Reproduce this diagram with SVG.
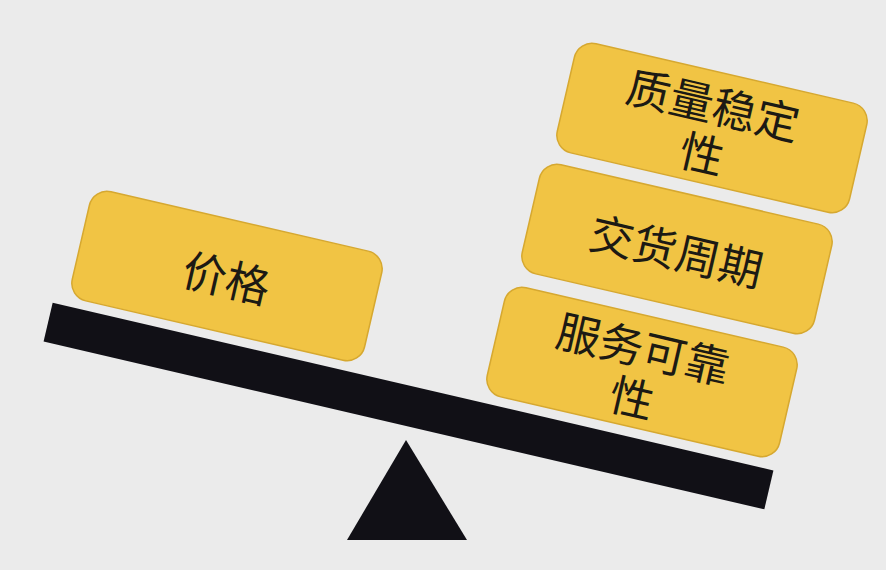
<svg xmlns="http://www.w3.org/2000/svg" width="886" height="570" viewBox="0 0 886 570">
<style>
.box{fill:#f1c444;stroke:#d6a830;stroke-width:1.5}
.lbl{font-family:"Noto Sans CJK SC","Noto Sans",sans-serif;font-size:44px;fill:#1c1a14;text-anchor:middle;dominant-baseline:central}
</style>
<rect width="886" height="570" fill="#ebebeb"/>
<g id="beam"><rect x="-370" y="-20" width="740" height="40" fill="#111016" transform="translate(408.5,406) rotate(13.1)"/></g>
<g id="fulcrum"><polygon points="406,440 347,540 467,540" fill="#111016"/></g>
<g id="price" transform="translate(227,276) rotate(13)">
<rect class="box" x="-150" y="-56" width="300" height="112" rx="18" fill="#ecc558"/>
<text class="lbl" x="0" y="0">价格</text>
</g>
<g id="quality" transform="translate(712,128) rotate(13)">
<rect class="box" x="-150" y="-56" width="300" height="112" rx="18"/>
<text class="lbl" x="-4" y="-25">质量稳定</text>
<text class="lbl" x="-4" y="25">性</text>
</g>
<g id="delivery" transform="translate(677,249) rotate(13)">
<rect class="box" x="-150" y="-56" width="300" height="112" rx="18"/>
<text class="lbl" x="0" y="0">交货周期</text>
</g>
<g id="service" transform="translate(642,372) rotate(13)">
<rect class="box" x="-150" y="-56" width="300" height="112" rx="18"/>
<text class="lbl" x="-4" y="-25">服务可靠</text>
<text class="lbl" x="-4" y="25">性</text>
</g>
<g id="connectors"></g>
</svg>
